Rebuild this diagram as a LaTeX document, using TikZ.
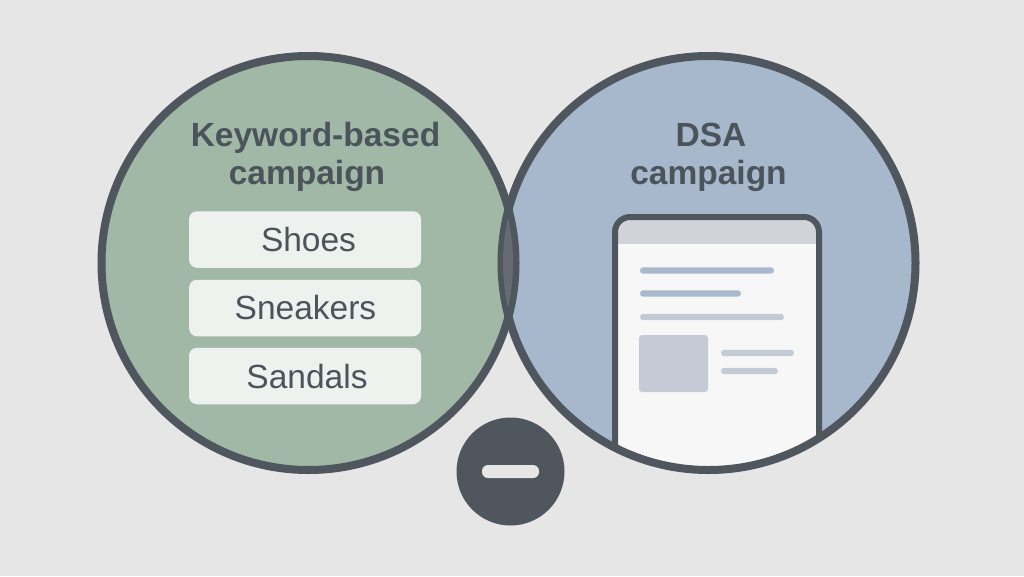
\documentclass[tikz,border=0pt]{standalone}
\usepackage{fontspec}
\setmainfont{Liberation Sans}
\definecolor{bgc}{HTML}{E6E6E6}
\definecolor{ink}{HTML}{4F565E}
\definecolor{txt}{HTML}{4A545A}
\definecolor{greenc}{HTML}{A1B8A7}
\definecolor{bluec}{HTML}{A7B8CC}
\definecolor{lensc}{HTML}{666B73}
\definecolor{kwbox}{HTML}{EEF2EF}
\definecolor{pagec}{HTML}{F7F7F8}
\definecolor{headc}{HTML}{D0D4DA}
\definecolor{barblue}{HTML}{A9B8CA}
\definecolor{bargrey}{HTML}{C4CBD4}
\tikzset{
  ring/.style={circle,minimum size=414pt,inner sep=0pt,outer sep=0pt},
  kwbox/.style={rectangle,rounded corners=8pt,fill=kwbox,minimum width=232pt,minimum height=56.5pt,inner sep=0pt},
  kwtext/.style={text=txt,inner sep=0pt,font=\fontsize{33.5}{33.5}\selectfont},
  title/.style={align=center,text=txt,inner sep=0pt,font=\fontsize{33.5}{38}\selectfont\bfseries},
  bar/.style={rounded corners=3.2pt},
}
\begin{document}
\begin{tikzpicture}[x=1pt,y=-1pt]
\useasboundingbox (0,0) rectangle (1024,576);
\fill[bgc] (0,0) rectangle (1024,576);
\node[ring,fill=greenc] (L) at (308.5,263) {};
\node[ring,fill=bluec] (R) at (708.5,263) {};
\begin{scope}
  \clip (708.5,263) circle (207pt);
  \fill[pagec,rounded corners=15pt] (615,217) rectangle (819,520);
  \fill[headc,rounded corners=15pt] (615,217) rectangle (819,270);
  \fill[pagec] (615,244) rectangle (819,520);
  \fill[barblue,bar] (640,267.3) rectangle (774,273.7);
  \fill[barblue,bar] (640,290.3) rectangle (741,296.7);
  \fill[bargrey,bar] (640,313.8) rectangle (784,320.2);
  \fill[bargrey,rounded corners=3pt] (639,335) rectangle (708,392);
  \fill[bargrey,bar] (721,349.8) rectangle (794,356.2);
  \fill[bargrey,bar] (721,367.8) rectangle (778,374.2);
  \draw[ink,line width=6pt,rounded corners=15pt] (615,217) rectangle (819,520);
\end{scope}
\draw[ink,line width=8pt] (L.center) circle (207pt);
\draw[ink,line width=8pt] (R.center) circle (207pt);
\begin{scope}
  \clip (308.5,263) circle (204.5pt);
  \fill[lensc] (708.5,263) circle (205.5pt);
\end{scope}
\node[title] (kt) at (315.5,157) {Keyword-based\\\hspace*{0pt}campaign\hspace*{17pt}};
\node[title] (dt) at (708.5,157) {\hspace*{5pt}DSA\\campaign};
\node[kwbox] (k1) at (305,239.5) {};
\node[kwbox] (k2) at (305,308) {};
\node[kwbox] (k3) at (305,376) {};
\node[kwtext] (k1t) at (308.5,240) {Shoes};
\node[kwtext] (k2t) at (305.5,308) {Sneakers};
\node[kwtext] (k3t) at (307,376.5) {Sandals};
\node[circle,fill=ink,minimum size=108pt,inner sep=0pt] (M) at (510.5,471.5) {};
\node[rectangle,rounded corners=6pt,fill=bgc,minimum width=57pt,minimum height=13pt,inner sep=0pt] (Mb) at (M.center) {};
\end{tikzpicture}
\end{document}
